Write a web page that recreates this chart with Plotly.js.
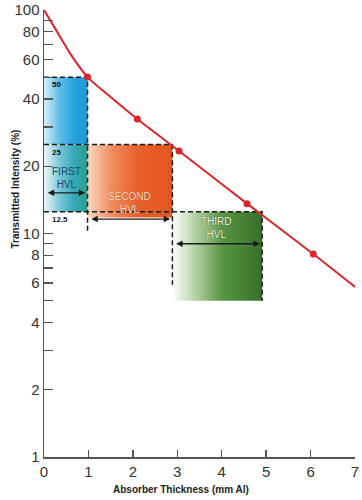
<!DOCTYPE html>
<html><head><meta charset="utf-8">
<script src="https://cdn.plot.ly/plotly-3.0.1.min.js"></script>
<style>html,body{margin:0;padding:0;background:#fff}#chart{width:362px;height:500px}</style>
</head><body><div id="chart"></div>
<script>
// Attenuation curve (absorber thickness in mm Al, transmitted intensity %)
const curveX = [0, 0.31, 0.62, 0.98, 1.5, 2.1, 3.04, 4.57, 6.06, 7.0];
const curveY = [100, 79, 62.5, 50.1, 40.8, 32.5, 23.4, 13.6, 8.1, 5.77];
const pointX = [0.98, 2.1, 3.04, 4.57, 6.06];
const pointY = [50.1, 32.5, 23.4, 13.6, 8.1];
// Half-value layers
const hvlLevels = [50, 25, 12.5];
const hvlLevelText = ["50", "25", "12.5"];
const hvlEdges = [0, 0.98, 2.89, 4.91];
const hvlBottoms = [10, 5.9, 5.0];
const hvlNames = ["FIRST<br>HVL", "SECOND<br>HVL", "THIRD<br>HVL"];
const hvlTextY = [17.7, 13.7, 10.6];
const hvlArrowY = [15.2, 11.6, 9.0];
// Axis ticks
const xTickVals = [0, 1, 2, 3, 4, 5, 6, 7];
const yTickVals = [1, 2, 3, 4, 5, 6, 7, 8, 9, 10, 20, 30, 40, 50, 60, 70, 80, 90, 100];
const yTickText = ["1", "2", "", "4", "", "6", "", "8", "", "10", "20", "", "40", "", "60", "", "80", "", "100"];

const FONT = "Liberation Sans, Arial, sans-serif";
const dashLine = {color: "#1a1a1a", width: 1.5, dash: "5px,3px"};

function box(x0, x1, y0, y1, scale) {
  return {x: [x0, x1, x1, x0, x0], y: [y0, y0, y1, y1, y0], mode: "none", fill: "toself",
    fillgradient: {type: "horizontal", colorscale: scale}, hoverinfo: "skip", showlegend: false};
}

const traces = [
  box(hvlEdges[0], hvlEdges[1], hvlLevels[0], hvlLevels[1],
      [[0, "#d7eef9"], [0.35, "#5fbde8"], [0.7, "#25a3de"], [1, "#1f9bd8"]]),
  box(hvlEdges[0], hvlEdges[1], hvlLevels[1], hvlLevels[2],
      [[0, "#eef8fa"], [0.35, "#7cc8d8"], [0.7, "#33a8b4"], [1, "#2c9f8c"]]),
  box(hvlEdges[1], hvlEdges[2], hvlLevels[1], 11.8,
      [[0, "#fbd8c2"], [0.3, "#f08a5a"], [0.6, "#e8602b"], [1, "#e3561f"]]),
  box(hvlEdges[2], hvlEdges[3], hvlLevels[2], hvlBottoms[2],
      [[0, "#ffffff"], [0.25, "#b5d3a6"], [0.55, "#5a9646"], [1, "#37702a"]]),
  // dashed guide lines
  {x: [hvlEdges[0], hvlEdges[1], hvlEdges[1]], y: [hvlLevels[0], hvlLevels[0], hvlBottoms[0]],
   mode: "lines", line: dashLine, hoverinfo: "skip", showlegend: false},
  {x: [hvlEdges[0], hvlEdges[2], hvlEdges[2]], y: [hvlLevels[1], hvlLevels[1], hvlBottoms[1]],
   mode: "lines", line: dashLine, hoverinfo: "skip", showlegend: false},
  {x: [hvlEdges[0], hvlEdges[3], hvlEdges[3]], y: [hvlLevels[2], hvlLevels[2], hvlBottoms[2]],
   mode: "lines", line: dashLine, hoverinfo: "skip", showlegend: false},
  // curve
  {x: curveX, y: curveY, mode: "lines", line: {color: "#d8262c", width: 2, shape: "spline", smoothing: 0.8},
   hoverinfo: "skip", showlegend: false},
  {x: pointX, y: pointY, mode: "markers", marker: {color: "#d8262c", size: 7},
   hoverinfo: "skip", showlegend: false}
];

const annotations = [];
const textColors = ["#1d4572", "#fbe0cc", "#eef5e8"];
const shadows = ["none", "0 0 1px #8a2a0c", "0 0 1px #1f3d16"];
for (let i = 0; i < 3; i++) {
  annotations.push({x: 0.14, y: Math.log10(hvlLevels[i]), xref: "x", yref: "y", text: "<b>" + hvlLevelText[i] + "</b>",
    showarrow: false, xanchor: "left", yanchor: "top", yshift: -1,
    font: {family: FONT, size: 8, color: "#111"}});
  annotations.push({x: (hvlEdges[i] + hvlEdges[i + 1]) / 2 + (i === 0 ? 0.02 : -0.02), y: Math.log10(hvlTextY[i]),
    xref: "x", yref: "y", text: hvlNames[i], showarrow: false,
    font: {family: FONT, size: 10, color: textColors[i], shadow: shadows[i]}});
  annotations.push({x: hvlEdges[i + 1] - 0.05, y: Math.log10(hvlArrowY[i]), ax: hvlEdges[i] + 0.05, ay: Math.log10(hvlArrowY[i]),
    xref: "x", yref: "y", axref: "x", ayref: "y", text: "", showarrow: true,
    arrowhead: 2, startarrowhead: 2, arrowside: "end+start", arrowsize: 1, startarrowsize: 1, arrowwidth: 1.3, arrowcolor: "#1a1a1a"});
}
annotations.push({x: -0.115, y: 0.6, xref: "paper", yref: "paper", text: "<b>Transmitted Intensity (%)</b>",
  textangle: -90, showarrow: false, font: {family: FONT, size: 10, color: "#222"}});
annotations.push({x: 0.44, y: -0.072, xref: "paper", yref: "paper", text: "<b>Absorber Thickness (mm Al)</b>",
  showarrow: false, yanchor: "middle", font: {family: FONT, size: 10, color: "#222"}});

const layout = {
  width: 362, height: 500,
  margin: {l: 44, r: 7, t: 10, b: 43},
  paper_bgcolor: "#fff", plot_bgcolor: "#fff",
  showlegend: false,
  xaxis: {range: [0, 7], tickvals: xTickVals, ticks: "inside", ticklen: 7, tickwidth: 1.3, tickcolor: "#555",
    showline: true, linecolor: "#555", linewidth: 1.5, showgrid: false, zeroline: false,
    tickfont: {family: FONT, size: 15, color: "#333"}},
  yaxis: {type: "log", range: [0, 2], tickvals: yTickVals, ticktext: yTickText, ticks: "inside", ticklen: 9,
    tickwidth: 1.3, tickcolor: "#555", showline: true, linecolor: "#555", linewidth: 1.5, showgrid: false,
    zeroline: false, tickfont: {family: FONT, size: 15, color: "#333"}},
  annotations: annotations
};

Plotly.newPlot("chart", traces, layout, {staticPlot: true, displayModeBar: false});
</script></body></html>
